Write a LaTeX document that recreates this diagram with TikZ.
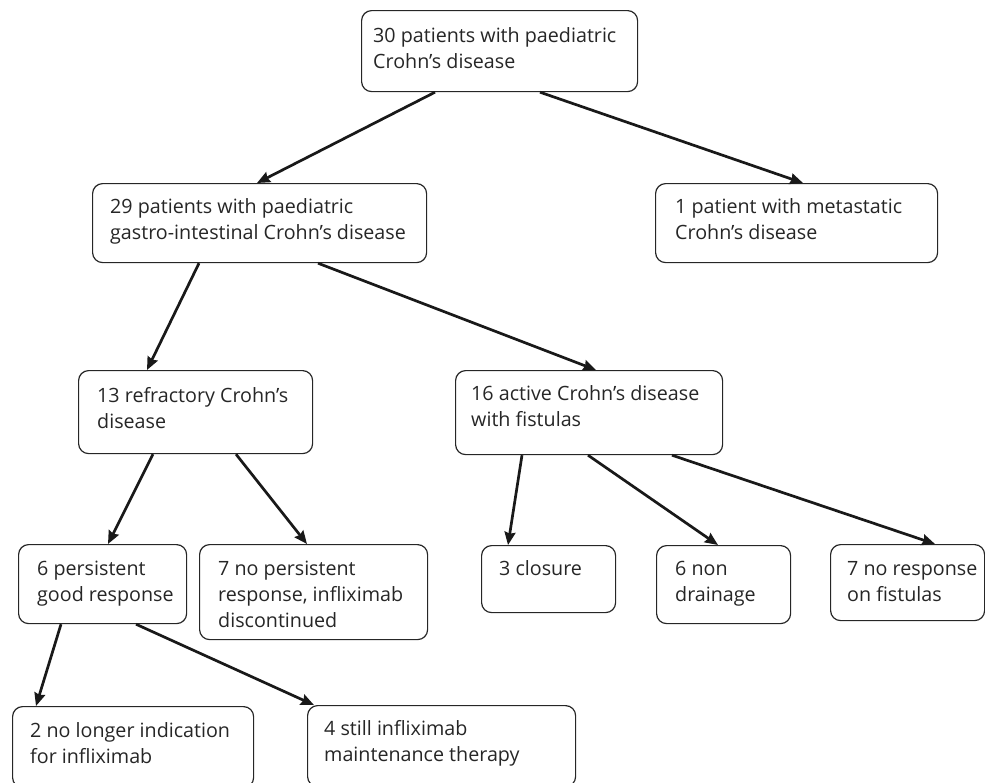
\documentclass[tikz,border=0pt]{standalone}
\usepackage{fontspec}
\setmainfont{Open Sans}
\usetikzlibrary{arrows.meta}
\tikzset{
  box/.style={draw=black!85, line width=1.2pt, rounded corners=10pt, inner sep=0pt, anchor=north west},
  txt/.style={anchor=north west, inner sep=0pt, text=black!85},
  arr/.style={draw=black!90, line width=2.7pt, -{Stealth[length=13pt,width=11pt,inset=1.5pt]}}
}
\newcommand{\bt}[2]{\parbox[t]{300pt}{\fontsize{19.7pt}{26pt}\selectfont\rule{0pt}{#1pt}#2}}
\begin{document}
\begin{tikzpicture}[x=1pt,y=-1pt]
\useasboundingbox (0,0) rectangle (985,782);
\clip (0,0) rectangle (985,782);
% boxes
\node[box, minimum width=276pt, minimum height=81pt] (a) at (361,10) {};
\node[box, minimum width=334pt, minimum height=79pt] (b) at (92,183) {};
\node[box, minimum width=282pt, minimum height=79pt] (c) at (655,183) {};
\node[box, minimum width=234pt, minimum height=83pt] (d) at (78,370) {};
\node[box, minimum width=267pt, minimum height=84pt] (e) at (455,370) {};
\node[box, minimum width=168pt, minimum height=79pt] (f) at (18,544) {};
\node[box, minimum width=228pt, minimum height=95pt] (g) at (199,544) {};
\node[box, minimum width=134pt, minimum height=67pt] (h) at (481,545) {};
\node[box, minimum width=134pt, minimum height=78pt] (i) at (656,545) {};
\node[box, minimum width=154pt, minimum height=76pt] (j) at (830,544) {};
\node[box, minimum width=241pt, minimum height=81pt] (k) at (12,706) {};
\node[box, minimum width=268pt, minimum height=81pt] (l) at (307,705) {};
% texts
\node[txt] (at) at ([xshift=12pt]a.north west) {\bt{32}{30 patients with paediatric\\Crohn’s disease}};
\node[txt] (bt) at ([xshift=18pt]b.north west) {\bt{30}{29 patients with paediatric\\gastro-intestinal Crohn’s disease}};
\node[txt] (ct) at ([xshift=20pt]c.north west) {\bt{30}{1 patient with metastatic\\Crohn’s disease}};
\node[txt] (dt) at ([xshift=19pt]d.north west) {\bt{32}{13 refractory Crohn’s\\disease}};
\node[txt] (et) at ([xshift=16pt]e.north west) {\bt{30}{16 active Crohn’s disease\\with fistulas}};
\node[txt] (ft) at ([xshift=19pt]f.north west) {\bt{31}{6 persistent\\good response}};
\node[txt] (gt) at ([xshift=19pt]g.north west) {\bt{31}{7 no persistent\\response, infliximab\\discontinued}};
\node[txt] (ht) at ([xshift=18pt]h.north west) {\bt{30}{3 closure}};
\node[txt] (it) at ([xshift=19pt]i.north west) {\bt{30}{6 non\\drainage}};
\node[txt] (jt) at ([xshift=17pt]j.north west) {\bt{31}{7 no response\\on fistulas}};
\node[txt] (kt) at ([xshift=18pt]k.north west) {\bt{31}{2 no longer indication\\for infliximab}};
\node[txt] (lt) at ([xshift=17pt]l.north west) {\bt{30}{4 still infliximab\\maintenance therapy}};
% connectors
\draw[arr] ([xshift=74pt]a.south west) -- ([xshift=165pt]b.north west);
\draw[arr] ([xshift=179pt]a.south west) -- ([xshift=148pt]c.north west);
\draw[arr] ([xshift=107pt]b.south west) -- ([xshift=69pt]d.north west);
\draw[arr] ([xshift=226pt]b.south west) -- ([xshift=141pt]e.north west);
\draw[arr] ([xshift=75pt]d.south west) -- ([xshift=90pt]f.north west);
\draw[arr] ([xshift=158pt]d.south west) -- ([xshift=108pt]g.north west);
\draw[arr] ([xshift=67pt]e.south west) -- ([xshift=27pt]h.north west);
\draw[arr] ([xshift=133pt]e.south west) -- ([xshift=62pt]i.north west);
\draw[arr] ([xshift=217pt]e.south west) -- ([xshift=105pt]j.north west);
\draw[arr] ([xshift=43pt]f.south west) -- ([xshift=24pt]k.north west);
\draw[arr] ([xshift=118pt]f.south west) -- ([xshift=7pt]l.north west);
\end{tikzpicture}
\end{document}
